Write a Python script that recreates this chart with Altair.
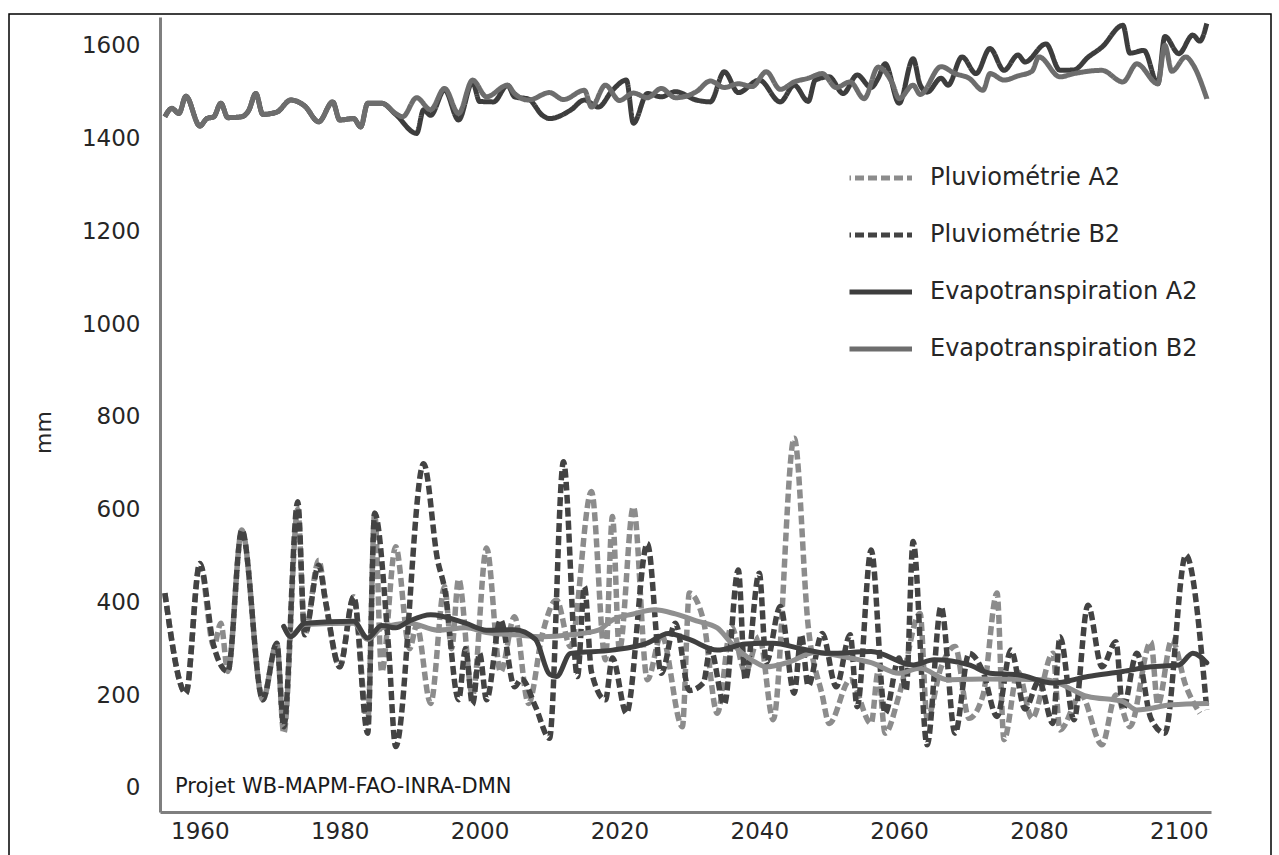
import altair as alt
import pandas as pd

FONT = "DejaVu Sans"
TEXT_COLOR = "#262626"
AXIS_COLOR = "#7f7f7f"

# Evapotranspiration, scénario B2 (mm)
etp_b2_years = [1955, 1956, 1957, 1958, 1960, 1961, 1962, 1963, 1964, 1966, 1967, 1968, 1969, 1971,
                1973, 1975, 1977, 1979, 1980, 1982, 1983, 1984, 1986, 1988, 1989, 1991, 1993, 1995,
                1997, 1999, 2001, 2004, 2005, 2007, 2010, 2012, 2015, 2016, 2018, 2020, 2022, 2024,
                2026, 2028, 2031, 2033, 2035, 2037, 2039, 2041, 2043, 2045, 2047, 2049, 2051, 2053,
                2055, 2057, 2059, 2060, 2062, 2063, 2066, 2068, 2070, 2072, 2073, 2075, 2077, 2079,
                2080, 2083, 2085, 2089, 2092, 2094, 2097, 2098, 2099, 2101, 2102, 2104]
etp_b2 = [1447, 1465, 1454, 1491, 1427, 1443, 1447, 1476, 1445, 1447, 1461, 1497, 1452, 1457,
          1483, 1470, 1436, 1479, 1440, 1443, 1425, 1476, 1476, 1454, 1447, 1488, 1462, 1508,
          1454, 1526, 1490, 1515, 1497, 1483, 1499, 1484, 1504, 1468, 1515, 1482, 1498, 1488,
          1508, 1488, 1501, 1524, 1510, 1518, 1512, 1544, 1506, 1522, 1530, 1540, 1510, 1522,
          1486, 1554, 1520, 1486, 1515, 1495, 1555, 1540, 1530, 1504, 1540, 1526, 1535, 1545,
          1576, 1533, 1540, 1547, 1522, 1561, 1518, 1601, 1545, 1576, 1560, 1486]

# Evapotranspiration, scénario A2 (mm)
etp_a2_years = [1955, 1956, 1957, 1958, 1960, 1961, 1962, 1963, 1964, 1966, 1967, 1968, 1969, 1971,
                1973, 1975, 1977, 1979, 1980, 1982, 1983, 1984, 1986, 1988, 1991, 1992, 1993, 1995,
                1997, 1999, 2000, 2002, 2004, 2005, 2007, 2009, 2010, 2013, 2015, 2017, 2019, 2021,
                2022, 2024, 2026, 2028, 2031, 2033, 2035, 2037, 2040, 2043, 2045, 2047, 2048, 2050,
                2052, 2054, 2056, 2057, 2058, 2060, 2062, 2063, 2064, 2066, 2067, 2069, 2071, 2073,
                2075, 2077, 2078, 2081, 2083, 2085, 2087, 2089, 2092, 2093, 2095, 2097, 2098, 2100,
                2102, 2103, 2104]
etp_a2 = [1447, 1465, 1454, 1491, 1427, 1443, 1447, 1476, 1445, 1447, 1461, 1497, 1452, 1457,
          1483, 1470, 1436, 1479, 1440, 1443, 1425, 1476, 1476, 1452, 1411, 1462, 1450, 1505,
          1440, 1522, 1480, 1479, 1515, 1490, 1485, 1450, 1443, 1461, 1483, 1468, 1504, 1526,
          1433, 1497, 1490, 1501, 1483, 1479, 1544, 1499, 1526, 1479, 1515, 1480, 1526, 1533,
          1497, 1537, 1510, 1530, 1561, 1476, 1572, 1516, 1500, 1530, 1515, 1576, 1540, 1594,
          1547, 1580, 1565, 1604, 1547, 1548, 1575, 1597, 1644, 1584, 1590, 1518, 1620, 1583,
          1623, 1610, 1648]

# Pluviométrie, scénario B2 (mm)
pluie_b2_years = [1955, 1958, 1960, 1962, 1964, 1966, 1969, 1971, 1972, 1974, 1975, 1977, 1978, 1980,
                  1982, 1984, 1985, 1987, 1988, 1992, 1994, 1995, 1997, 1998, 1999, 2000, 2001, 2003,
                  2005, 2006, 2008, 2010, 2012, 2014, 2015, 2016, 2018, 2019, 2021, 2024, 2026, 2028,
                  2030, 2032, 2033, 2035, 2037, 2038, 2040, 2041, 2043, 2045, 2046, 2047, 2049, 2051,
                  2053, 2054, 2056, 2058, 2060, 2061, 2062, 2064, 2066, 2068, 2070, 2072, 2074, 2076,
                  2078, 2080, 2082, 2083, 2085, 2087, 2089, 2091, 2092, 2094, 2096, 2098, 2101, 2104]
pluie_b2 = [420, 204, 484, 305, 251, 556, 190, 312, 132, 617, 330, 480, 400, 261,
            412, 118, 592, 300, 89, 699, 491, 430, 190, 300, 180, 290, 190, 362,
            218, 235, 175, 107, 703, 240, 434, 250, 190, 280, 161, 527, 247, 355,
            210, 226, 300, 180, 470, 233, 463, 270, 391, 204, 330, 220, 333, 218,
            330, 175, 513, 161, 280, 210, 531, 93, 391, 118, 290, 250, 154, 297,
            170, 230, 139, 326, 147, 394, 261, 315, 170, 290, 150, 118, 502, 168]

# Pluviométrie, scénario A2 (mm)
pluie_a2_years = [1955, 1958, 1960, 1962, 1963, 1964, 1966, 1969, 1971, 1972, 1974, 1975, 1977, 1978,
                  1980, 1982, 1984, 1985, 1986, 1988, 1990, 1991, 1993, 1995, 1996, 1997, 1999, 2001,
                  2003, 2005, 2007, 2009, 2011, 2013, 2016, 2018, 2019, 2020, 2022, 2024, 2026, 2029,
                  2030, 2032, 2034, 2036, 2038, 2040, 2042, 2045, 2047, 2049, 2050, 2053, 2056, 2057,
                  2058, 2060, 2063, 2064, 2066, 2068, 2070, 2072, 2074, 2075, 2077, 2079, 2082, 2083,
                  2086, 2089, 2091, 2093, 2096, 2097, 2099, 2101, 2103]
pluie_a2 = [420, 204, 484, 305, 355, 251, 556, 190, 312, 118, 600, 330, 491, 400,
            261, 412, 140, 592, 250, 520, 300, 350, 182, 434, 300, 450, 200, 517,
            250, 369, 182, 333, 405, 305, 639, 276, 585, 297, 606, 233, 330, 132,
            420, 362, 161, 348, 250, 326, 147, 754, 348, 200, 139, 233, 139, 250,
            118, 200, 376, 150, 260, 305, 150, 200, 420, 104, 250, 150, 290, 125,
            200, 93, 200, 132, 315, 180, 319, 220, 161]

# Moyennes mobiles de la pluviométrie (mm)
moy_b2_years = [1972, 1973, 1975, 1982, 1984, 1986, 1988, 1990, 1993, 1998, 2001, 2005, 2008, 2010,
                2011, 2013, 2019, 2024, 2027, 2030, 2034, 2038, 2042, 2046, 2050, 2056, 2062, 2065,
                2070, 2073, 2077, 2082, 2087, 2092, 2096, 2100, 2102, 2104]
moy_b2 = [348, 326, 355, 359, 323, 350, 345, 360, 373, 355, 340, 341, 320, 245,
          240, 290, 297, 312, 333, 320, 297, 310, 312, 300, 290, 294, 265, 276,
          265, 247, 244, 226, 240, 251, 261, 265, 290, 270]
moy_a2_years = [1972, 1973, 1975, 1982, 1984, 1986, 1990, 1994, 1998, 2001, 2005, 2009, 2013, 2017,
                2019, 2022, 2025, 2028, 2031, 2034, 2036, 2039, 2041, 2044, 2048, 2052, 2056, 2060,
                2063, 2067, 2072, 2081, 2087, 2092, 2094, 2099, 2104]
moy_a2 = [348, 330, 352, 355, 320, 345, 355, 340, 345, 335, 330, 326, 330, 340,
          362, 375, 384, 375, 360, 345, 312, 275, 261, 270, 292, 283, 270, 247,
          258, 233, 235, 233, 197, 186, 168, 179, 182]

SERIES = ["Pluviométrie A2", "Pluviométrie B2", "Evapotranspiration A2", "Evapotranspiration B2"]
COLORS = ["#8c8c8c", "#434343", "#3d3d3d", "#6d6d6d"]
DASHES = [[9, 4], [9, 4], [1, 0], [1, 0]]


def rows(serie, years, values):
    return [{"serie": serie, "annee": y, "mm": v} for y, v in zip(years, values)]


data = pd.DataFrame(
    rows("Pluviométrie A2", pluie_a2_years, pluie_a2)
    + rows("Pluviométrie B2", pluie_b2_years, pluie_b2)
    + rows("Evapotranspiration A2", etp_a2_years, etp_a2)
    + rows("Evapotranspiration B2", etp_b2_years, etp_b2)
    + rows("Moyenne A2", moy_a2_years, moy_a2)
    + rows("Moyenne B2", moy_b2_years, moy_b2)
)

x_enc = alt.X(
    "annee:Q",
    scale=alt.Scale(domain=[1954.3, 2104.6], nice=False, zero=False),
    axis=alt.Axis(values=list(range(1960, 2101, 20)), format="d", title=None,
                  labelPadding=8, labelFlush=False),
)
y_enc = alt.Y(
    "mm:Q",
    scale=alt.Scale(domain=[-52, 1662], nice=False, zero=False),
    axis=alt.Axis(values=list(range(0, 1601, 200)), format="d", title="mm", labelPadding=20,
                  titleX=-117, titleY=415, titleAngle=270, titleBaseline="middle",
                  titleAlign="center"),
)

legend = alt.Legend(
    title=None, orient="none", legendX=689.5, legendY=141, padding=0,
    symbolType="M-1.4,0H1.4", symbolSize=2500, symbolStrokeWidth=5,
    clipHeight=40, rowPadding=17, labelOffset=25.5,
    labelFont=FONT, labelFontSize=24, labelColor=TEXT_COLOR, labelLimit=400,
)
color_enc = alt.Color("serie:N", scale=alt.Scale(domain=SERIES, range=COLORS), legend=legend)
dash_enc = alt.StrokeDash("serie:N", scale=alt.Scale(domain=SERIES, range=DASHES), legend=legend)

base = alt.Chart(data)


def serie_layer(name, width):
    return (
        base.transform_filter(alt.datum.serie == name)
        .mark_line(interpolate="monotone", strokeWidth=width, strokeCap="butt", strokeJoin="round")
        .encode(x=x_enc, y=y_enc, color=color_enc, strokeDash=dash_enc)
    )


def moyenne_layer(name, color):
    return (
        base.transform_filter(alt.datum.serie == name)
        .mark_line(interpolate="monotone", strokeWidth=5, strokeCap="round", strokeJoin="round")
        .encode(x=x_enc, y=y_enc, color=alt.value(color))
    )


source_note = (
    alt.Chart(pd.DataFrame({"note": ["Projet WB-MAPM-FAO-INRA-DMN"]}))
    .mark_text(align="left", baseline="middle", font=FONT, fontSize=21, color="#1a1a1a")
    .encode(x=alt.value(15), y=alt.value(770), text="note:N")
)

frame = (
    alt.Chart(pd.DataFrame({"f": [0]}))
    .mark_rect(fillOpacity=0, stroke="#000000", strokeWidth=1.5)
    .encode(x=alt.value(-151), x2=alt.value(1111), y=alt.value(-3), y2=alt.value(870))
)

chart = (
    alt.layer(
        serie_layer("Pluviométrie A2", 5.5),
        serie_layer("Pluviométrie B2", 5.5),
        moyenne_layer("Moyenne A2", "#8f8f8f"),
        moyenne_layer("Moyenne B2", "#404040"),
        serie_layer("Evapotranspiration A2", 5),
        serie_layer("Evapotranspiration B2", 5),
        source_note,
        frame,
    )
    .properties(
        width=1051, height=795,
        padding={"left": 160, "top": 17, "right": 68, "bottom": 43},
        autosize=alt.AutoSizeParams(type="none"),
        background="white",
    )
    .configure_view(stroke=None)
    .configure_axis(
        grid=False, ticks=False, domainColor=AXIS_COLOR, domainWidth=3,
        labelFont=FONT, labelFontSize=23, labelColor=TEXT_COLOR,
        titleFont=FONT, titleFontSize=22, titleFontWeight="normal", titleColor=TEXT_COLOR,
    )
)

chart.save("out.html", embed_options={"renderer": "svg", "actions": False})
